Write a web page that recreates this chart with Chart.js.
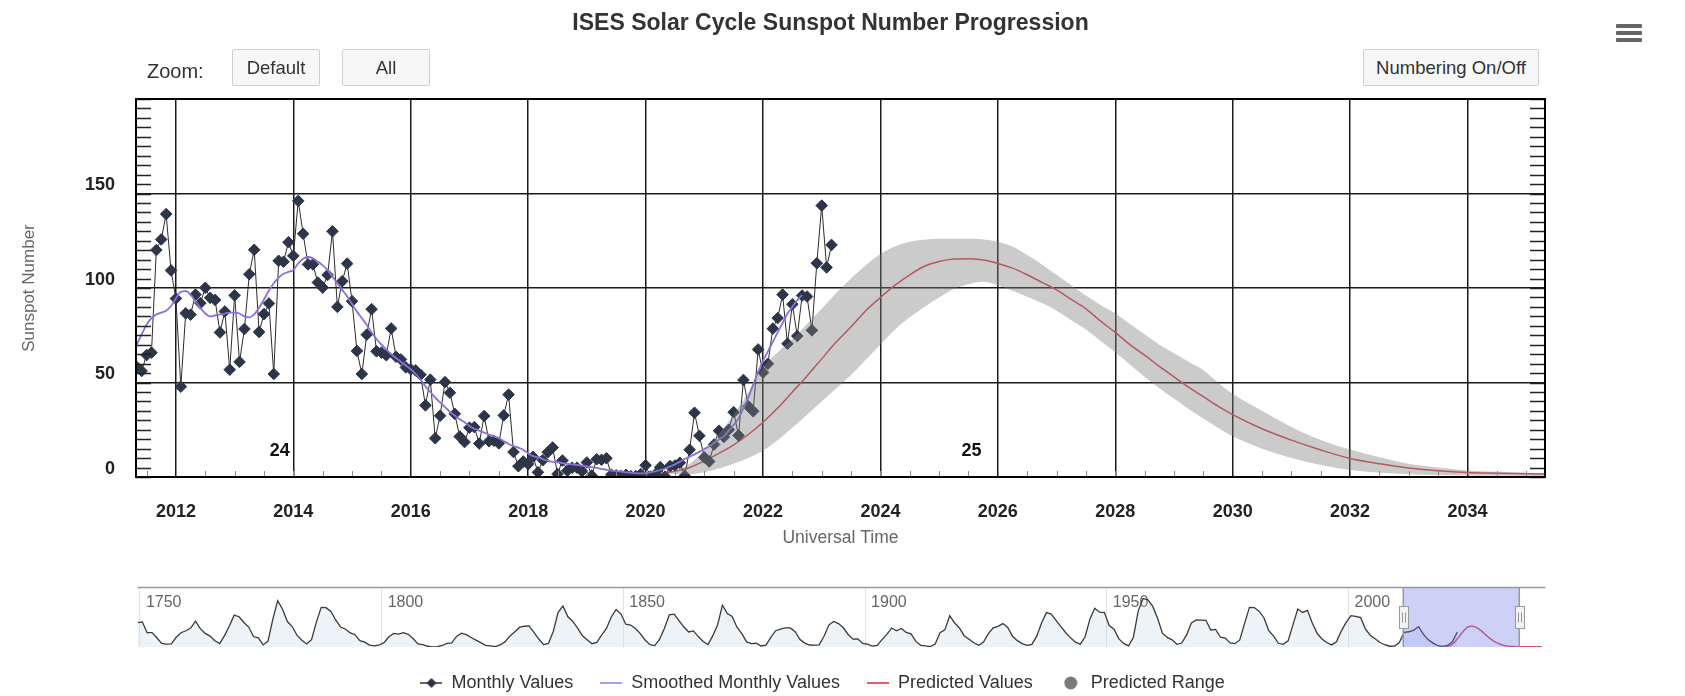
<!DOCTYPE html>
<html>
<head>
<meta charset="utf-8">
<script src="https://cdn.jsdelivr.net/npm/chart.js@4.4.1/dist/chart.umd.min.js"></script>
<style>
  html, body { margin:0; padding:0; background:#fff; width:1685px; height:696px; overflow:hidden;
    font-family:"Liberation Sans", Arial, Helvetica, sans-serif; }
  canvas { position:absolute; left:0; }
  #main { top:0; }
  #nav { top:575px; }
  .ui { position:absolute; z-index:5; }
  .btn { top:49px; height:37px; box-sizing:border-box; border:1px solid #d0d0d0; background:#f7f7f7;
    border-radius:2px; color:#333; font-size:18.5px; display:flex; align-items:center; justify-content:center; }
  #zoomLbl { left:147px; top:58px; font-size:20px; line-height:26px; color:#333; }
  .bar { left:1616px; width:26px; height:4px; background:#666; border-radius:1px; }
</style>
</head>
<body>
<canvas id="main" width="1661" height="549"></canvas>
<canvas id="nav" width="1685" height="127"></canvas>
<div class="ui" id="zoomLbl">Zoom:</div>
<div class="ui btn" style="left:232px;width:88px;">Default</div>
<div class="ui btn" style="left:342px;width:88px;">All</div>
<div class="ui btn" style="left:1363px;width:176px;">Numbering On/Off</div>
<div class="ui bar" style="top:24px;"></div>
<div class="ui bar" style="top:31px;"></div>
<div class="ui bar" style="top:38px;"></div>
<script>
// ---------------- DATA ----------------
const titleText = 'ISES Solar Cycle Sunspot Number Progression';
const xAxisTitle = 'Universal Time';
const yAxisTitle = 'Sunspot Number';

// Monthly values, first month May 2011, last March 2023
const monthlyStart = [2011, 5];
const monthlyValues = [
  58.2, 56.1, 64.5, 65.8, 120.1, 125.7, 139.1, 109.3,
  94.4, 47.8, 86.6, 85.9, 96.5, 92.0, 100.1, 94.8, 93.7, 76.5, 87.6, 56.8,
  96.1, 60.9, 78.3, 107.3, 120.2, 76.7, 86.2, 91.8, 54.5, 114.4, 113.9, 124.2,
  117.0, 146.1, 128.7, 112.5, 112.5, 102.9, 100.2, 106.9, 130.0, 90.0, 103.6, 112.9,
  93.0, 66.7, 54.5, 75.3, 88.8, 66.5, 65.8, 64.4, 78.6, 63.6, 62.2, 58.0,
  57.0, 56.4, 54.1, 37.9, 51.5, 20.5, 32.4, 50.2, 44.6, 33.4, 21.4, 18.5,
  26.1, 26.4, 17.7, 32.3, 18.9, 19.2, 17.8, 32.6, 43.6, 13.2, 5.7, 8.2,
  6.8, 10.7, 2.5, 8.9, 13.1, 15.6, 1.6, 8.7, 3.3, 4.9, 4.9, 3.1,
  7.7, 0.8, 9.4, 9.1, 9.9, 1.2, 0.9, 0.5, 1.1, 0.4, 0.5, 1.5,
  6.2, 0.2, 1.5, 5.2, 0.2, 5.8, 6.1, 7.5, 0.6, 14.4, 34.0, 21.8,
  10.4, 8.2, 17.2, 24.5, 21.2, 25.0, 34.3, 22.0, 51.3, 37.4, 34.8, 67.5,
  55.3, 59.9, 78.5, 84.1, 96.5, 70.5, 91.4, 74.6, 96.0, 95.5, 77.6, 113.1,
  143.6, 110.9, 122.8
];

// Smoothed monthly values, first month May 2011, last September 2022
const smoothedStart = [2011, 5];
const smoothedValues = [
  70, 75.5, 80.5, 84, 86, 87, 88, 90.5,
  94.5, 98, 98.3, 96.5, 93, 89.5, 86.5, 85, 85.5, 86, 86.5, 87,
  87, 86.5, 85, 84.5, 86, 89.5, 94, 98.5, 102.5, 105.5, 107.5, 108.5,
  109.5, 113, 115.5, 116.4, 115.7, 114, 112, 109.5, 106, 102.5, 99, 95.5,
  91.5, 87.5, 84, 80.5, 76.5, 73, 70, 67.5, 65, 63, 61, 59,
  57, 54.5, 51.5, 48, 45, 42, 39.5, 37, 34.5, 32.5, 30.5, 29,
  27, 25.5, 24.5, 23.5, 22.5, 21.5, 20.5, 19, 17.5, 16.3, 15.5, 14.3,
  12.5, 11, 10.5, 9.5, 8.5, 8, 7.8, 7.4, 7, 6.7, 6.4, 6,
  5.6, 5.2, 4.8, 4.3, 3.8, 3.4, 3.1, 2.8, 2.5, 2.2, 2, 1.9,
  2, 2.5, 3, 3.7, 4.5, 5.5, 6.7, 8, 9.5, 10.8, 12, 13.3,
  14.8, 16.3, 18, 19.8, 21.5, 24.5, 27.5, 31, 36.5, 42, 49, 55.5,
  61.5, 66.5, 71.5, 76.5, 81.5, 86.5, 90, 93.5, 96.3
];

// Predicted values (decimal years)
const predictedYears = [2019.92, 2020.25, 2020.5, 2020.75, 2021.0, 2021.25, 2021.5, 2021.75,
  2022.0, 2022.25, 2022.5, 2022.75, 2023.0, 2023.25, 2023.5, 2023.75, 2024.0, 2024.25, 2024.5,
  2024.75, 2025.0, 2025.25, 2025.5, 2025.75, 2026.0, 2026.25, 2026.5, 2026.75, 2027.0, 2027.25,
  2027.5, 2027.75, 2028.0, 2028.25, 2028.5, 2028.75, 2029.0, 2029.25, 2029.5, 2029.75, 2030.0,
  2030.5, 2031.0, 2031.5, 2032.0, 2032.5, 2033.0, 2033.5, 2034.0, 2034.5, 2035.0, 2036.0,
  2037.0, 2038.0, 2039.0, 2040.0];
const predictedValues = [1.8, 1.9, 3, 5, 8.5, 12.5, 17, 22.5,
  29, 36.5, 45, 53.5, 62.5, 71.5, 79.5, 88, 95, 101.5, 107,
  111.5, 114, 115.3, 115.5, 114.8, 113, 110.5, 107, 103, 99, 94,
  89, 82.5, 76.5, 70, 64.5, 58.5, 53, 47.5, 42.5, 37.5, 33,
  25.5, 19.5, 14.3, 9.8, 7, 4.8, 3.3, 2.4, 2, 1.7, 1.4,
  1.3, 1.2, 1.2, 1.1];

// Predicted range (decimal years)
const rangeYears = [2020.25, 2020.5, 2020.75, 2021.0, 2021.25, 2021.5, 2021.75, 2022.0, 2022.25,
  2022.5, 2022.75, 2023.0, 2023.25, 2023.5, 2023.75, 2024.0, 2024.25, 2024.5, 2024.75, 2025.0,
  2025.25, 2025.5, 2025.75, 2026.0, 2026.25, 2026.5, 2026.75, 2027.0, 2027.25, 2027.5, 2027.75,
  2028.0, 2028.25, 2028.5, 2028.75, 2029.0, 2029.25, 2029.5, 2029.75, 2030.0, 2030.5, 2031.0,
  2031.5, 2032.0, 2032.5, 2033.0, 2033.5, 2034.0, 2034.5, 2035.0, 2036.0];
const rangeHigh = [2, 3.5, 7, 14, 23, 33, 45, 58, 66,
  73, 81, 89, 97.5, 105, 112, 118, 122, 124.5, 125.5, 126,
  126, 126, 125.7, 124.5, 122, 117.5, 112.5, 107, 101.5, 96, 91,
  86.5, 81, 75.5, 70, 65.5, 61, 56.5, 50, 44, 35, 26.5,
  19.6, 14.5, 10.5, 7, 5, 3.5, 2.8, 2.3, 2];
const rangeLow = [1.8, 1.6, 1.5, 2.5, 4.5, 7, 10, 14, 19.5,
  26, 33, 40, 47, 54, 62, 70, 78, 84.5, 90, 95,
  99.5, 102, 103.3, 101.5, 98.5, 95.4, 92, 88, 83, 78, 72,
  66, 59.5, 53, 47, 41.5, 36, 31, 26, 21.5, 15, 10,
  6.3, 3.7, 2.3, 1.5, 1, 0.8, 0.6, 0.5, 0.4];

// Axis ticks and labels
const xTickYears = [2012, 2014, 2016, 2018, 2020, 2022, 2024, 2026, 2028, 2030, 2032, 2034];
const yTickValues = [0, 50, 100, 150];
const xRange = [2011.32, 2035.32];
const yRange = [0, 200];
const yMinorStep = 5;
const xMinorStep = 0.5;

// Cycle numbers
const cycleNumbers = ['24', '25'];
const cycleLabelYears = [2013.77, 2025.55];
const cycleLabelValue = 13.5;

// Navigator: yearly mean sunspot numbers 1749..2022
const historyStartYear = 1749;
const historyValues = [
  134.7, 139.0, 79.5, 79.7, 51.5, 20.3, 16.0, 17.0, 54.0, 79.3, 90.0, 104.8, 143.2, 102.0, 75.2, 60.7,
  34.8, 19.0, 63.0, 116.3, 176.8, 168.0, 136.0, 110.8, 58.0, 51.0, 11.7, 33.0, 154.2, 257.3, 209.8,
  141.3, 113.5, 64.2, 38.0, 17.0, 40.2, 138.2, 220.0, 218.2, 196.8, 149.8, 111.0, 100.0, 78.2, 68.3,
  35.5, 26.7, 10.7, 6.8, 11.3, 24.2, 56.7, 75.0, 71.8, 79.2, 70.3, 46.8, 16.8, 13.5, 4.2, 0.0,
  2.3, 8.3, 20.3, 23.2, 59.0, 76.3, 68.3, 52.9, 38.5, 24.2, 9.2, 6.3, 2.2, 11.4, 28.2, 59.9,
  83.0, 108.5, 115.2, 117.4, 80.8, 44.3, 13.4, 19.5, 85.8, 192.7, 227.3, 168.7, 143.0, 105.5, 63.3,
  40.3, 18.1, 25.1, 65.8, 102.7, 166.3, 208.3, 182.5, 126.3, 122.0, 102.7, 74.1, 39.0, 12.7, 8.2,
  43.4, 104.4, 178.3, 182.2, 146.6, 112.1, 83.5, 89.2, 57.8, 30.7, 13.9, 62.8, 123.6, 232.0, 185.3,
  169.2, 110.1, 74.5, 28.3, 18.9, 20.7, 5.7, 10.0, 53.7, 90.5, 99.0, 106.1, 105.8, 86.3, 42.4,
  21.8, 11.2, 10.4, 11.8, 59.5, 121.7, 142.0, 130.0, 106.6, 69.4, 43.8, 44.4, 20.2, 15.7, 4.6,
  8.5, 40.8, 70.1, 105.5, 90.1, 102.8, 80.9, 73.2, 30.9, 9.5, 6.0, 2.4, 16.1, 79.0, 95.0,
  173.6, 134.6, 105.7, 62.7, 43.5, 23.7, 9.7, 27.9, 74.0, 106.5, 114.7, 129.7, 108.2, 59.4, 35.1,
  18.6, 9.2, 14.6, 60.2, 132.8, 190.6, 182.6, 148.0, 113.0, 79.2, 50.8, 27.1, 16.1, 55.3, 154.3,
  214.7, 193.0, 190.7, 118.9, 98.3, 45.0, 20.1, 6.6, 54.2, 200.7, 269.3, 261.7, 225.1, 159.0,
  76.4, 53.4, 39.9, 15.0, 22.0, 66.8, 132.9, 150.0, 149.4, 148.0, 94.4, 97.6, 54.1, 49.2, 22.5,
  18.4, 39.3, 131.0, 220.1, 218.9, 198.9, 162.4, 91.0, 60.5, 20.6, 14.8, 33.9, 123.0, 211.1,
  191.8, 203.3, 133.0, 76.1, 44.9, 25.1, 11.6, 28.9, 88.3, 136.3, 173.9, 170.4, 163.6, 99.3,
  65.3, 45.8, 24.7, 12.6, 4.2, 4.8, 24.9, 80.8, 84.5, 94.0, 113.3, 69.8, 39.8, 21.7, 7.0,
  3.6, 8.8, 29.6, 83.2
];
const navTickYears = [1750, 1800, 1850, 1900, 1950, 2000];
const navRange = [1749.5, 2040.7];
const navYMax = 330;

const legendNames = ['Monthly Values', 'Smoothed Monthly Values', 'Predicted Values', 'Predicted Range'];

// ---------------- STYLE ----------------
const FONT = '"Liberation Sans", Arial, Helvetica, sans-serif';
Chart.defaults.font.family = FONT;
Chart.defaults.color = '#333';
const C_MONTHLY_LINE = '#2b2b2b';
const C_MONTHLY_PT = '#2c3648';
const C_SMOOTH = '#8a6fdc';
const C_PRED = '#d8434f';
const C_RANGE = 'rgba(125,125,125,0.4)';
const C_GRID = '#1a1a1a';

function monthYear(start, i) { return start[0] + (start[1] - 1 + i) / 12; }
const monthlyPts = monthlyValues.map((v, i) => ({x: monthYear(monthlyStart, i), y: v}));
const smoothedPts = smoothedValues.map((v, i) => ({x: monthYear(smoothedStart, i), y: v}));
const predictedPts = predictedYears.map((x, i) => ({x, y: predictedValues[i]}));
const highPts = rangeYears.map((x, i) => ({x, y: rangeHigh[i]}));
const lowPts = rangeYears.map((x, i) => ({x, y: rangeLow[i]}));
const historyPts = historyValues.map((v, i) => ({x: historyStartYear + i + 0.5, y: v}));

// ---------------- MAIN CHART ----------------
const mainDecor = {
  id: 'mainDecor',
  afterDatasetsDraw(chart) {
    const {ctx, chartArea: a, scales: {x, y}} = chart;
    ctx.save();
    ctx.strokeStyle = '#222';
    ctx.lineWidth = 1.6;
    for (let v = yRange[0]; v <= yRange[1]; v += yMinorStep) {
      const py = Math.round(y.getPixelForValue(v)) + 0.5;
      ctx.beginPath();
      ctx.moveTo(a.left, py); ctx.lineTo(a.left + 15, py);
      ctx.moveTo(a.right, py); ctx.lineTo(a.right - 15, py);
      ctx.stroke();
    }
    ctx.strokeStyle = '#8a8a8a';
    ctx.lineWidth = 1;
    const first = Math.ceil(xRange[0] / xMinorStep) * xMinorStep;
    for (let t = first; t <= xRange[1]; t += xMinorStep) {
      const px = Math.round(x.getPixelForValue(t)) + 0.5;
      ctx.beginPath(); ctx.moveTo(px, a.bottom); ctx.lineTo(px, a.bottom - 6); ctx.stroke();
    }
    ctx.strokeStyle = '#000';
    ctx.lineWidth = 2;
    ctx.strokeRect(a.left, a.top, a.right - a.left, a.bottom - a.top);
    ctx.fillStyle = '#111';
    ctx.font = 'bold 18px ' + FONT;
    ctx.textAlign = 'center';
    ctx.textBaseline = 'middle';
    cycleNumbers.forEach((n, i) => {
      ctx.fillText(n, x.getPixelForValue(cycleLabelYears[i]), y.getPixelForValue(cycleLabelValue));
    });
    ctx.restore();
  }
};

new Chart(document.getElementById('main'), {
  type: 'line',
  data: {
    datasets: [
      { label: 'Predicted Range', data: highPts, fill: '+1', backgroundColor: C_RANGE,
        borderColor: 'rgba(0,0,0,0)', borderWidth: 0, pointRadius: 0, cubicInterpolationMode: 'monotone', order: 0 },
      { label: 'range-low', data: lowPts, fill: false, borderColor: 'rgba(0,0,0,0)', borderWidth: 0,
        pointRadius: 0, cubicInterpolationMode: 'monotone', order: 0 },
      { label: 'Smoothed Monthly Values', data: smoothedPts, borderColor: C_SMOOTH, borderWidth: 1.8,
        pointRadius: 0, fill: false, cubicInterpolationMode: 'monotone', order: 1 },
      { label: 'Monthly Values', data: monthlyPts, borderColor: C_MONTHLY_LINE, borderWidth: 1,
        pointStyle: 'rectRot', pointRadius: 5.8, pointBackgroundColor: C_MONTHLY_PT,
        pointBorderColor: C_MONTHLY_PT, pointBorderWidth: 1, fill: false, tension: 0, order: 2 },
      { label: 'Predicted Values', data: predictedPts, borderColor: C_PRED, borderWidth: 1.5,
        pointRadius: 0, fill: false, cubicInterpolationMode: 'monotone', order: 3 }
    ]
  },
  options: {
    responsive: false,
    animation: false,
    events: [],
    layout: { padding: { left: 0, right: 0, top: 0, bottom: 0 } },
    plugins: {
      legend: { display: false },
      tooltip: { enabled: false },
      title: { display: true, text: titleText, color: '#333',
        font: { size: 23, weight: 'bold' }, padding: { top: 10.2, bottom: 61.2 } }
    },
    scales: {
      x: {
        type: 'linear', min: xRange[0], max: xRange[1],
        afterBuildTicks: s => { s.ticks = xTickYears.map(v => ({value: v})); },
        afterFit: s => { s.height = 72; },
        grid: { color: C_GRID, lineWidth: 1.5, drawTicks: false },
        border: { display: false },
        ticks: { callback: v => String(v), color: '#222', font: { size: 18, weight: 'bold' },
          padding: 24, maxRotation: 0, autoSkip: false },
        title: { display: true, text: xAxisTitle, color: '#666', font: { size: 17.5 }, padding: { top: 0, bottom: 0 } }
      },
      y: {
        type: 'linear', position: 'left', min: yRange[0], max: yRange[1],
        afterBuildTicks: s => { s.ticks = yTickValues.map(v => ({value: v})); },
        afterFit: s => { s.width = 136; },
        grid: { color: C_GRID, lineWidth: 1.5, drawTicks: false },
        border: { display: false },
        ticks: { callback: v => String(v), color: '#222', font: { size: 18, weight: 'bold' },
          padding: 21, labelOffset: -8 },
        title: { display: true, text: yAxisTitle, color: '#666', font: { size: 17 }, padding: { top: 19.5, bottom: 0 } }
      },
      yRightSpace: {
        type: 'linear', position: 'right', min: yRange[0], max: yRange[1],
        afterFit: s => { s.width = 116; },
        ticks: { display: false },
        grid: { display: false },
        border: { display: false }
      }
    }
  },
  plugins: [mainDecor]
});

// ---------------- NAVIGATOR + LEGEND ----------------
function makeIcon(w, h, draw) {
  const c = document.createElement('canvas');
  c.width = w; c.height = h;
  draw(c.getContext('2d'));
  return c;
}
const iconMonthly = makeIcon(22, 12, g => {
  g.strokeStyle = '#333'; g.lineWidth = 1.5;
  g.beginPath(); g.moveTo(0, 6); g.lineTo(22, 6); g.stroke();
  g.fillStyle = C_MONTHLY_PT;
  g.beginPath(); g.moveTo(11, 1); g.lineTo(16, 6); g.lineTo(11, 11); g.lineTo(6, 6); g.closePath(); g.fill();
});
const iconSmooth = makeIcon(22, 4, g => {
  g.strokeStyle = '#b39af0'; g.lineWidth = 2;
  g.beginPath(); g.moveTo(0, 2); g.lineTo(22, 2); g.stroke();
});
const iconPred = makeIcon(22, 4, g => {
  g.strokeStyle = '#e0606a'; g.lineWidth = 2;
  g.beginPath(); g.moveTo(0, 2); g.lineTo(22, 2); g.stroke();
});
const iconRange = makeIcon(14, 14, g => {
  g.fillStyle = '#7a7a7a';
  g.beginPath(); g.arc(7, 7, 6.5, 0, Math.PI * 2); g.fill();
});
const legendIcons = [iconMonthly, iconSmooth, iconPred, iconRange];

const navDecor = {
  id: 'navDecor',
  beforeDatasetsDraw(chart) {
    const {ctx, chartArea: a, scales: {x}} = chart;
    ctx.save();
    ctx.font = '16px ' + FONT;
    ctx.fillStyle = '#666';
    ctx.textAlign = 'left';
    ctx.textBaseline = 'top';
    navTickYears.forEach(v => ctx.fillText(String(v), x.getPixelForValue(v) + 6, a.top + 7));
    ctx.restore();
  },
  afterDatasetsDraw(chart) {
    const {ctx, chartArea: a, scales: {x}} = chart;
    const x1 = x.getPixelForValue(xRange[0]);
    const x2 = x.getPixelForValue(xRange[1]);
    ctx.save();
    ctx.fillStyle = 'rgba(102,115,235,0.33)';
    ctx.fillRect(x1, a.top, x2 - x1, a.bottom - a.top);
    ctx.strokeStyle = '#999';
    ctx.lineWidth = 1.5;
    ctx.beginPath();
    ctx.moveTo(a.left, a.top); ctx.lineTo(a.right, a.top);
    ctx.moveTo(x1, a.top); ctx.lineTo(x1, a.bottom);
    ctx.moveTo(x2, a.top); ctx.lineTo(x2, a.bottom);
    ctx.stroke();
    const cy = (a.top + a.bottom) / 2;
    [x1, x2].forEach(px => {
      const hx = Math.round(px - 4.5) + 0.5, hy = Math.round(cy - 11) + 0.5;
      ctx.fillStyle = '#f2f2f2';
      ctx.strokeStyle = '#999';
      ctx.lineWidth = 1;
      ctx.fillRect(hx, hy, 9, 22);
      ctx.strokeRect(hx, hy, 9, 22);
      ctx.beginPath();
      ctx.moveTo(hx + 3, hy + 6); ctx.lineTo(hx + 3, hy + 16);
      ctx.moveTo(hx + 6, hy + 6); ctx.lineTo(hx + 6, hy + 16);
      ctx.stroke();
    });
    ctx.restore();
  }
};

new Chart(document.getElementById('nav'), {
  type: 'line',
  data: {
    datasets: [
      { label: 'nav-pred', data: predictedPts, borderColor: '#de4f6e', borderWidth: 1.5, pointRadius: 0,
        fill: false, cubicInterpolationMode: 'monotone' },
      { label: 'nav-history', data: historyPts, borderColor: '#3a3a3a', borderWidth: 1.3, pointRadius: 0,
        fill: 'origin', backgroundColor: 'rgba(200,215,232,0.3)', tension: 0 }
    ]
  },
  options: {
    responsive: false,
    animation: false,
    events: [],
    layout: { padding: { left: 100, right: 139.7, top: 12.5, bottom: 0 } },
    plugins: {
      title: { display: false },
      tooltip: { enabled: false },
      legend: {
        display: true, position: 'bottom', onClick: () => {},
        labels: {
          font: { size: 18 }, color: '#333', padding: 27, usePointStyle: true,
          pointStyleWidth: 22, boxHeight: 9,
          generateLabels: () => legendNames.map((t, i) => ({
            text: t, pointStyle: legendIcons[i], fillStyle: '#333', strokeStyle: '#333',
            lineWidth: 0, hidden: false, datasetIndex: i, fontColor: '#333'
          }))
        }
      }
    },
    scales: {
      x: {
        type: 'linear', min: navRange[0], max: navRange[1],
        afterBuildTicks: s => { s.ticks = navTickYears.map(v => ({value: v})); },
        afterFit: s => { s.height = 0; },
        ticks: { display: false },
        grid: { color: '#e2e2e2', lineWidth: 1, drawTicks: false },
        border: { display: false }
      },
      y: {
        type: 'linear', min: 0, max: navYMax,
        afterFit: s => { s.width = 37.5; },
        ticks: { display: false },
        grid: { display: false },
        border: { display: false }
      }
    }
  },
  plugins: [navDecor]
});
</script>
</body>
</html>
